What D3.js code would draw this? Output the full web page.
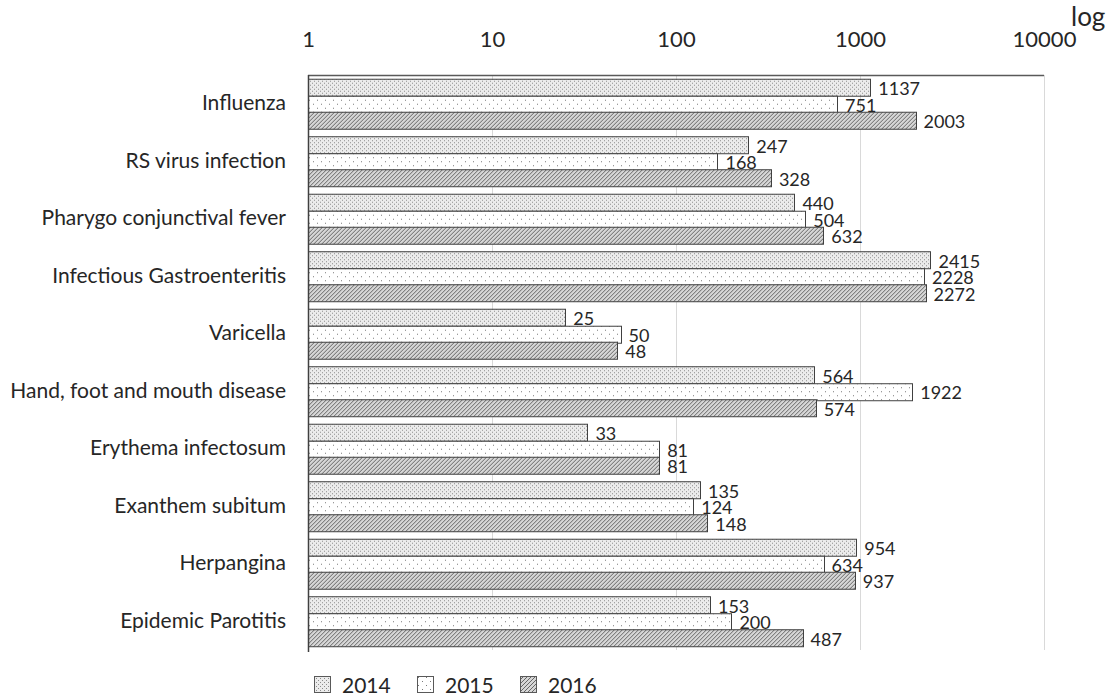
<!DOCTYPE html>
<html>
<head>
<meta charset="utf-8">
<script src="https://cdn.jsdelivr.net/npm/d3@7"></script>
<style>
  html, body { margin: 0; padding: 0; background: #fff; }
  svg { display: block; font-family: Lato, "Open Sans", sans-serif; }
</style>
</head>
<body>
<svg id="chart" width="1113" height="698"></svg>
<script>
// Reported cases by disease and year (log scale)
const diseases = [
  "Influenza",
  "RS virus infection",
  "Pharygo conjunctival fever",
  "Infectious Gastroenteritis",
  "Varicella",
  "Hand, foot and mouth disease",
  "Erythema infectosum",
  "Exanthem subitum",
  "Herpangina",
  "Epidemic Parotitis"
];
const years = ["2014", "2015", "2016"];
const cases2014 = [1137, 247, 440, 2415, 25, 564, 33, 135, 954, 153];
const cases2015 = [751, 168, 504, 2228, 50, 1922, 81, 124, 634, 200];
const cases2016 = [2003, 328, 632, 2272, 48, 574, 81, 148, 937, 487];
const tickValues = [1, 10, 100, 1000, 10000];

const seriesByYear = { "2014": cases2014, "2015": cases2015, "2016": cases2016 };

const svg = d3.select("#chart");
const margin = { left: 308, right: 1044, top: 75, bottom: 650 };
const textColor = "#262626";

const x = d3.scaleLog().domain([1, 10000]).range([margin.left, margin.right]);
const y = d3.scaleBand().domain(diseases).range([margin.top, margin.bottom])
  .paddingInner(0.13).paddingOuter(0.065);
const ySub = d3.scaleBand().domain(years).range([0, y.bandwidth()]);

// Fill patterns for each year
const defs = svg.append("defs");
const p14 = defs.append("pattern").attr("id", "pat2014")
  .attr("patternUnits", "userSpaceOnUse").attr("width", 4).attr("height", 4);
p14.append("rect").attr("width", 4).attr("height", 4).attr("fill", "#ececec");
p14.append("rect").attr("x", 0).attr("y", 0).attr("width", 1).attr("height", 1).attr("fill", "#8c8c8c");
p14.append("rect").attr("x", 2).attr("y", 2).attr("width", 1).attr("height", 1).attr("fill", "#8c8c8c");

const p15 = defs.append("pattern").attr("id", "pat2015")
  .attr("patternUnits", "userSpaceOnUse").attr("width", 8).attr("height", 8);
p15.append("rect").attr("width", 8).attr("height", 8).attr("fill", "#ffffff");
p15.append("rect").attr("x", 1).attr("y", 1).attr("width", 1).attr("height", 1).attr("fill", "#7a7a7a");
p15.append("rect").attr("x", 5).attr("y", 5).attr("width", 1).attr("height", 1).attr("fill", "#7a7a7a");

const p16 = defs.append("pattern").attr("id", "pat2016")
  .attr("patternUnits", "userSpaceOnUse").attr("width", 4).attr("height", 4);
p16.append("rect").attr("width", 4).attr("height", 4).attr("fill", "#d6d6d6");
p16.append("path").attr("d", "M0,4 L4,0 M-1,1 L1,-1 M3,5 L5,3")
  .attr("stroke", "#666").attr("stroke-width", 1);

const fills = { "2014": "url(#pat2014)", "2015": "url(#pat2015)", "2016": "url(#pat2016)" };

// Vertical gridlines
svg.append("g").selectAll("line")
  .data(tickValues.slice(1))
  .join("line")
  .attr("x1", d => Math.round(x(d)) + 0.5).attr("x2", d => Math.round(x(d)) + 0.5)
  .attr("y1", margin.top).attr("y2", margin.bottom)
  .attr("stroke", "#d9d9d9").attr("stroke-width", 1);

// Bars
const groups = svg.append("g").selectAll("g")
  .data(diseases)
  .join("g")
  .attr("transform", d => `translate(0,${y(d)})`);

const barData = (d, i) => years.map(yr => ({ year: yr, value: seriesByYear[yr][i] }));

groups.each(function(d, i) {
  const g = d3.select(this);
  const rows = barData(d, i);
  g.selectAll("rect")
    .data(rows)
    .join("rect")
    .attr("x", margin.left + 0.5)
    .attr("y", r => Math.round(ySub(r.year)) + 0.5)
    .attr("width", r => Math.round(x(r.value)) - margin.left)
    .attr("height", Math.round(ySub.bandwidth()))
    .attr("fill", r => fills[r.year])
    .attr("stroke", "#404040")
    .attr("stroke-width", 1);
  g.selectAll("text")
    .data(rows)
    .join("text")
    .attr("x", r => x(r.value) + 8)
    .attr("y", r => ySub(r.year) + ySub.bandwidth() / 2 + 1)
    .attr("dominant-baseline", "central")
    .attr("font-size", 18)
    .attr("fill", textColor)
    .text(r => r.value);
});

// Top axis (log ticks)
const xAxis = d3.axisTop(x).tickValues(tickValues).tickFormat(d3.format("d")).tickSize(0).tickPadding(0);
const axG = svg.append("g").attr("transform", `translate(0,${margin.top})`).call(xAxis);
axG.select(".domain").remove();
axG.selectAll("text")
  .attr("y", 47 - margin.top)
  .attr("dy", 0)
  .attr("font-size", 22)
  .attr("font-family", "Lato, sans-serif")
  .attr("fill", textColor);

svg.append("line")
  .attr("x1", margin.left).attr("x2", margin.right)
  .attr("y1", margin.top + 0.5).attr("y2", margin.top + 0.5)
  .attr("stroke", "#595959").attr("stroke-width", 1.5);

svg.append("text")
  .attr("x", 1071).attr("y", 26)
  .attr("font-size", 26)
  .attr("fill", textColor)
  .text("log");

// Left category axis
const yAxis = d3.axisLeft(y).tickSize(0).tickPadding(22);
const ayG = svg.append("g").attr("transform", `translate(${margin.left},0)`).call(yAxis);
ayG.select(".domain").remove();
ayG.selectAll("text")
  .attr("font-size", 21)
  .attr("font-family", "Lato, sans-serif")
  .attr("fill", textColor);

svg.append("line")
  .attr("x1", margin.left + 0.5).attr("x2", margin.left + 0.5)
  .attr("y1", margin.top).attr("y2", margin.bottom + 2)
  .attr("stroke", "#404040").attr("stroke-width", 1.5);

// Legend
const legendX = [314, 417, 520];
const legend = svg.append("g").selectAll("g")
  .data(years)
  .join("g")
  .attr("transform", (d, i) => `translate(${legendX[i]},676)`);
legend.append("rect")
  .attr("x", 0.5).attr("y", 0.5)
  .attr("width", 16).attr("height", 16)
  .attr("fill", d => fills[d])
  .attr("stroke", "#595959").attr("stroke-width", 1);
legend.append("text")
  .attr("x", 28).attr("y", 8.5)
  .attr("dominant-baseline", "central")
  .attr("font-size", 21)
  .attr("fill", textColor)
  .text(d => d);
</script>
</body>
</html>
